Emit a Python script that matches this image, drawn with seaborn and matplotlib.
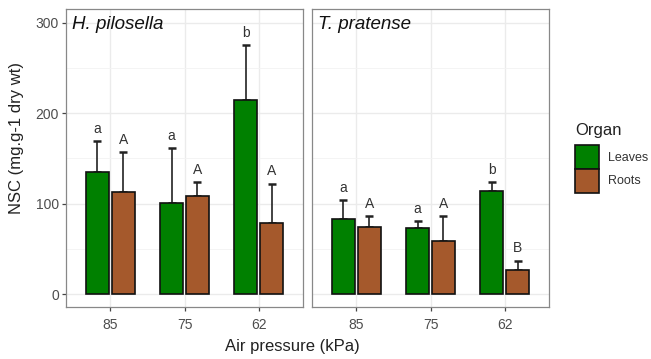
import matplotlib
matplotlib.use("Agg")
import matplotlib.pyplot as plt
from matplotlib.patches import Patch
from matplotlib.ticker import MultipleLocator
import seaborn as sns
import pandas as pd

species = ["H. pilosella", "T. pratense"]
pressures = ["85", "75", "62"]
organs = ["Leaves", "Roots"]

# mean values per pressure
hp_leaves = [135, 101, 215]
hp_roots = [113, 109, 79]
tp_leaves = [83, 73, 114]
tp_roots = [74, 59, 27]
# upper error bar end
hp_leaves_up = [169, 161, 275]
hp_roots_up = [157, 124, 122]
tp_leaves_up = [104, 81, 124]
tp_roots_up = [86, 86, 37]
# significance letters
hp_leaves_lab = ["a", "a", "b"]
hp_roots_lab = ["A", "A", "A"]
tp_leaves_lab = ["a", "a", "b"]
tp_roots_lab = ["A", "A", "B"]

rows = []
series = {
    ("H. pilosella", "Leaves"): (hp_leaves, hp_leaves_up, hp_leaves_lab),
    ("H. pilosella", "Roots"): (hp_roots, hp_roots_up, hp_roots_lab),
    ("T. pratense", "Leaves"): (tp_leaves, tp_leaves_up, tp_leaves_lab),
    ("T. pratense", "Roots"): (tp_roots, tp_roots_up, tp_roots_lab),
}
for (sp, org), (vals, ups, labs) in series.items():
    for p, v, u, l in zip(pressures, vals, ups, labs):
        rows.append(dict(Species=sp, Organ=org, Pressure=p, NSC=v, Up=u, Lab=l))
df = pd.DataFrame(rows)

sns.set_theme(style="white")
plt.rcParams["font.family"] = ["Liberation Sans", "DejaVu Sans"]

colors = {"Leaves": "#008000", "Roots": "#A5592C"}
W, H = 651, 359
fig = plt.figure(figsize=(W / 100, H / 100), dpi=100)

panels = [(66, 9, 237, 298), (312, 9, 237, 298)]
axes = []
for i, sp in enumerate(species):
    x0, y0, w, h = panels[i]
    ax = fig.add_axes([x0 / W, 1 - (y0 + h) / H, w / W, h / H])
    axes.append(ax)
    sub = df[df.Species == sp]
    ax.set_axisbelow(True)
    sns.barplot(data=sub, x="Pressure", y="NSC", hue="Organ", order=pressures,
                hue_order=organs, palette=colors, saturation=1, width=0.7, gap=0.09,
                edgecolor="#111111", linewidth=1.2, errorbar=None, ax=ax,
                legend=False, zorder=3)
    for org, cont in zip(organs, ax.containers):
        s = sub[sub.Organ == org].set_index("Pressure").loc[pressures]
        for bar, (_, r) in zip(cont, s.iterrows()):
            cx = bar.get_x() + bar.get_width() / 2
            ax.errorbar(cx, r.NSC, yerr=[[0], [r.Up - r.NSC]], color="#222222",
                        elinewidth=1.2, capsize=3.2, capthick=1.8, zorder=2)
            ax.text(cx, r.Up + 6, r.Lab, ha="center", va="bottom", fontsize=10,
                    color="#333333", zorder=4)
    ax.set_xlim(-0.6, 2.6)
    ax.set_ylim(-14, 315)
    ax.yaxis.set_major_locator(MultipleLocator(100))
    ax.yaxis.set_minor_locator(MultipleLocator(50))
    ax.grid(which="major", axis="both", color="#EBEBEB", linewidth=1.0, zorder=0)
    ax.grid(which="minor", axis="y", color="#F3F3F3", linewidth=0.6, zorder=0)
    for s in ax.spines.values():
        s.set_color("#888888")
        s.set_linewidth(0.9)
    ax.set_xlabel("")
    ax.set_ylabel("")
    ax.tick_params(axis="x", which="major", length=3, width=0.9, color="#444444",
                   labelsize=10, labelcolor="#4D4D4D", pad=5, bottom=True)
    ax.tick_params(axis="y", which="major", length=3, width=0.9, color="#444444",
                   labelsize=10, labelcolor="#4D4D4D", pad=2, left=True)
    ax.tick_params(axis="y", which="minor", length=0)
    ax.text(0.025, 0.978, sp, transform=ax.transAxes, ha="left", va="top",
            fontsize=13.5, style="italic", color="#111111")
    if i == 1:
        ax.tick_params(axis="y", which="both", left=False, labelleft=False)

fig.text(292 / W, 1 - 347 / H, "Air pressure (kPa)", ha="center", va="center",
         fontsize=12, color="#222222")
fig.text(17 / W, 1 - 138 / H, "NSC (mg.g-1 dry wt)", ha="center", va="center",
         rotation=90, fontsize=12, color="#222222")

handles = [Patch(facecolor=colors[o], edgecolor="#111111", linewidth=1.2) for o in organs]
leg = fig.legend(handles, organs, title="Organ", loc="upper left",
                 bbox_to_anchor=(575 / W, 1 - 123 / H), frameon=False,
                 fontsize=9, title_fontsize=12, handlelength=1.9,
                 handleheight=2.55, labelspacing=0.0, handletextpad=0.75,
                 alignment="left", borderaxespad=0, borderpad=0)
leg._legend_box.sep = 5
leg.get_title().set_color("#222222")
for t in leg.get_texts():
    t.set_color("#333333")

fig.savefig("out.png", dpi=100)
